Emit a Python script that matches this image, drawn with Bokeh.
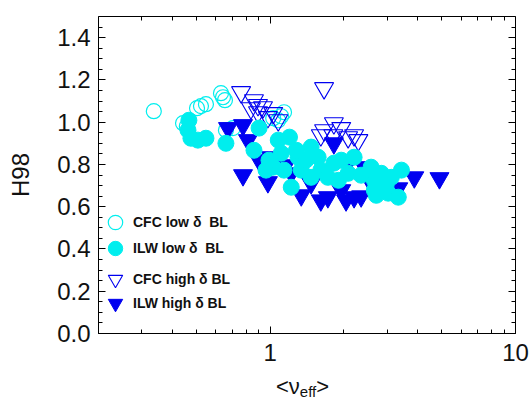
from bokeh.plotting import figure
from bokeh.models import (LogAxis, LinearAxis, FixedTicker, SingleIntervalTicker,
                          PrintfTickFormatter, CustomJSTickFormatter, Legend, LegendItem, Div)
from bokeh.layouts import column
from bokeh.embed import file_html
from bokeh.resources import INLINE

# ---- data ----
cfc_low_x = [0.336, 0.504, 0.523, 0.548, 0.631, 0.643, 0.655, 0.442, 0.458, 0.661,
             0.706, 1.14, 1.11, 1.08, 1.03]
cfc_low_y = [1.052, 1.066, 1.076, 1.085, 1.137, 1.118, 1.104, 0.995, 0.981, 0.962,
             0.972, 1.047, 1.028, 1.009, 1.019]

ilw_low_x = [0.467, 0.463, 0.476, 0.508, 0.548, 0.661, 0.860, 0.902, 0.963, 1.08,
             1.20, 1.11, 1.30, 1.47, 1.57, 1.61, 1.82, 1.90, 2.08, 2.20,
             1.22, 1.47, 1.72, 2.58, 2.66, 2.84, 3.12, 3.43, 2.66, 3.03,
             3.33, 1.14, 1.34, 1.03, 0.99, 1.28, 1.40, 1.95, 2.35, 2.97, 2.71]
ilw_low_y = [1.009, 0.962, 0.924, 0.915, 0.924, 0.900, 0.867, 0.972, 0.773, 0.915,
             0.929, 0.853, 0.834, 0.882, 0.834, 0.773, 0.806, 0.725, 0.758, 0.834,
             0.692, 0.739, 0.739, 0.787, 0.725, 0.758, 0.739, 0.773, 0.678, 0.664,
             0.645, 0.773, 0.773, 0.787, 0.820, 0.867, 0.820, 0.820, 0.749, 0.701, 0.654]

cfc_high_x = [0.762, 0.860, 0.893, 0.936, 0.836, 1.03, 1.08, 0.98, 0.893, 1.66,
              1.82, 1.66, 1.61, 1.95, 2.20, 2.29, 2.08, 1.81]
cfc_high_y = [1.142, 1.104, 1.081, 1.071, 1.066, 1.043, 1.009, 1.024, 1.047, 1.161,
              0.995, 0.962, 0.938, 0.972, 0.938, 0.915, 0.929, 0.938]

ilw_high_x = [0.674, 0.776, 0.813, 0.776, 0.98, 1.82, 3.87, 4.90, 1.72, 2.20,
              3.33, 1.01, 1.22, 1.47, 1.95, 2.42, 2.58, 1.34, 1.61, 2.04,
              2.35, 0.902, 1.16, 2.08]
ilw_high_y = [0.972, 0.986, 0.915, 0.749, 0.716, 0.900, 0.739, 0.735, 0.645, 0.645,
              0.687, 0.834, 0.758, 0.711, 0.678, 0.787, 0.711, 0.654, 0.630, 0.630,
              0.649, 0.820, 0.796, 0.806]

series_labels = ["CFC low \u03b4  BL", "ILW low \u03b4  BL", "CFC high \u03b4 BL", "ILW high \u03b4 BL"]
x_major_ticks = [1, 10]
x_minor_ticks = [0.2, 0.3, 0.4, 0.5, 0.6, 0.7, 0.8, 0.9, 2, 3, 4, 5, 6, 7, 8, 9]

CYAN = "#00EEEE"
BLUE = "#0000F0"
FONT = "Liberation Sans"

p = figure(width=531, height=374, x_axis_type="log", x_range=(0.2, 10), y_range=(0, 1.5),
           output_backend="svg", toolbar_location=None,
           min_border_left=98, min_border_right=16, min_border_top=16, min_border_bottom=41)
p.xgrid.visible = False
p.ygrid.visible = False
p.outline_line_color = None
p.background_fill_color = "white"
p.border_fill_color = "white"

bottom = p.below[0]
left = p.left[0]

r1 = p.scatter(cfc_low_x, cfc_low_y, marker="circle", size=15, fill_color=None,
               line_color=CYAN, line_width=1.2)
r3 = p.scatter(cfc_high_x, cfc_high_y, marker="inverted_triangle", size=19, fill_color=None,
               line_color=BLUE, line_width=1.1)
r4 = p.scatter(ilw_high_x, ilw_high_y, marker="inverted_triangle", size=19, fill_color=BLUE,
               line_color=BLUE)
r2 = p.scatter(ilw_low_x, ilw_low_y, marker="circle", size=16, fill_color=CYAN,
               line_color=CYAN)

blank = CustomJSTickFormatter(code="return ''")
top = LogAxis(formatter=blank)
right = LinearAxis(formatter=blank)
p.add_layout(top, "above")
p.add_layout(right, "right")

xt = FixedTicker(ticks=x_major_ticks, minor_ticks=x_minor_ticks)
yt = SingleIntervalTicker(interval=0.2, num_minor_ticks=4)
bottom.ticker = xt
top.ticker = xt
left.ticker = yt
right.ticker = yt
bottom.formatter = PrintfTickFormatter(format="%d")
left.formatter = PrintfTickFormatter(format="%.1f")

for ax in [bottom, left, top, right]:
    ax.axis_line_color = "black"
    ax.axis_line_width = 1
    ax.major_tick_in = 7
    ax.major_tick_out = 0
    ax.minor_tick_in = 4
    ax.minor_tick_out = 0
    ax.major_tick_line_color = "black"
    ax.minor_tick_line_color = "black"
    ax.major_label_text_font = FONT
    ax.major_label_text_font_size = "24px"
    ax.major_label_text_color = "#111111"

for ax in [top, right]:
    ax.major_label_standoff = 0

left.major_label_standoff = 8
bottom.major_label_standoff = 10
left.axis_label = "H98"
left.axis_label_text_font = FONT
left.axis_label_text_font_size = "24px"
left.axis_label_text_font_style = "normal"
left.axis_label_text_color = "#111111"
left.axis_label_standoff = 20

# legend: one small legend per row
rows = [(r1, 93, -4), (r2, 67, -4), (r3, 36, -4), (r4, 12, 0)]
for (rr, yy, so), lab in zip(rows, series_labels):
    lg = Legend(items=[LegendItem(label=lab, renderers=[rr])], location=(-1, yy),
                glyph_width=36, glyph_height=36, label_standoff=so,
                label_text_font=FONT, label_text_font_size="14px",
                label_text_font_style="bold", label_text_color="#111111",
                background_fill_alpha=0, border_line_alpha=0, padding=0, margin=0,
                spacing=0)
    p.add_layout(lg, "center")

# x axis title with subscript
xtitle = Div(
    text=('<div style="font-family:\'Liberation Sans\'; font-size:22px; line-height:22px; '
          'padding-left:276px; padding-top:2px; color:#111111; white-space:nowrap">'
          '&lt;&nu;<span style="font-size:15px; position:relative; top:3px">eff</span>&gt;</div>'),
    width=531, height=27, margin=0)

layout = column(p, xtitle, spacing=0)
open("out.html", "w").write(file_html(layout, INLINE))
